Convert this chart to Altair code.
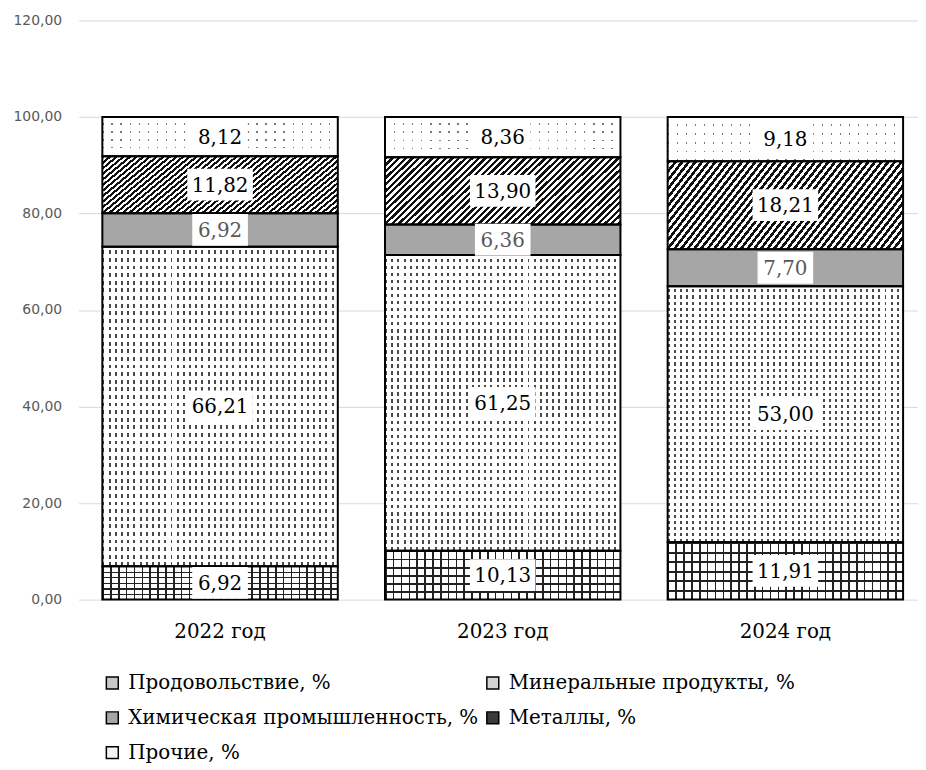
import altair as alt
import pandas as pd

years = ["2022 год", "2023 год", "2024 год"]
series = ["Продовольствие, %", "Минеральные продукты, %",
          "Химическая промышленность, %", "Металлы, %", "Прочие, %"]
food = [6.92, 10.13, 11.91]
minerals = [66.21, 61.25, 53.00]
chem = [6.92, 6.36, 7.70]
metals = [11.82, 13.90, 18.21]
other = [8.12, 8.36, 9.18]
y_ticks = [0, 20, 40, 60, 80, 100, 120]

values = [food, minerals, chem, metals, other]
rows = []
for si, (s, vals) in enumerate(zip(series, values)):
    for yi, y in enumerate(years):
        rows.append({"year": y, "series": s, "order": si, "value": vals[yi]})
df = pd.DataFrame(rows)

legend_fill = ["#c8c8c8", "#d4d4d4", "#a6a6a6", "#3a3a3a", "#f2f2f2"]
SERIF = "DejaVu Serif"


def stripes(n, frac, c_on, c_off, x2, y2):
    stops = []
    for i in range(n):
        a = i / n
        b = (i + frac) / n
        c = (i + 1) / n
        stops += [{"offset": a, "color": c_on}, {"offset": b, "color": c_on},
                  {"offset": b, "color": c_off}, {"offset": c, "color": c_off}]
    return {"gradient": "linear", "x1": 0, "y1": 0, "x2": x2, "y2": y2,
            "stops": stops}


T = "rgba(255,255,255,0)"

base = alt.Chart(df).transform_stack(
    stack="value", groupby=["year"], sort=[alt.SortField("order")],
    as_=["y0", "y1"]
).transform_calculate(
    mid="(datum.y0 + datum.y1) / 2",
    label="replace(format(datum.value, '.2f'), '.', ',')",
    w="length(replace(format(datum.value, '.2f'), '.', ',')) * 10 + 16",
)

X = alt.X("year:N", sort=years, title=None,
          scale=alt.Scale(paddingInner=0.167, paddingOuter=0.0685, align=0.615),
          axis=alt.Axis(domain=False, ticks=False, labelAngle=0,
                        labelFont=SERIF, labelFontSize=20,
                        labelColor="black", labelPadding=22))
Y = alt.Y("y0:Q", title=None,
          scale=alt.Scale(domain=[0, 120], nice=False),
          axis=alt.Axis(values=y_ticks, domain=False, ticks=False, tickSize=0,
                        labelExpr="replace(format(datum.value, '.2f'), '.', ',')",
                        labelFont="DejaVu Sans", labelFontSize=14,
                        labelColor="#595959", labelPadding=17,
                        gridColor="#d9d9d9", gridWidth=1))

colored = base.mark_bar().encode(
    x=X, y=Y, y2="y1:Q",
    color=alt.Color("series:N", scale=alt.Scale(domain=series, range=legend_fill),
                    legend=alt.Legend(title=None, orient="none", legendX=24,
                                      legendY=657, columns=2, direction="horizontal",
                                      symbolType="square", symbolSize=144,
                                      symbolStrokeColor="black", symbolStrokeWidth=1.5,
                                      labelFont=SERIF, labelFontSize=20,
                                      labelColor="black", labelLimit=600,
                                      labelOffset=6, columnPadding=4, rowPadding=15)),
)


def overlay(name, grad):
    return base.transform_filter(alt.datum.series == name).mark_bar(
        fill=grad, strokeWidth=0).encode(x=X, y="y0:Q", y2="y1:Q")


layers = [colored]
# Продовольствие: grid
layers.append(overlay(series[0], stripes(30, 0.2, "#222222", "#ffffff", 1, 0)))
layers.append(overlay(series[0], stripes(6, 0.2, "#222222", T, 0, 1)))
# Минеральные: dense dots
layers.append(overlay(series[1], stripes(38, 0.32, "#4a4a4a", "#ffffff", 1, 0)))
layers.append(overlay(series[1], stripes(42, 0.5, "#ffffff", T, 0, 1)))
# Металлы: diagonal hatch
layers.append(overlay(series[3], stripes(48, 0.5, "#111111", "#ffffff", 1.25, 0.3625)))
# Прочие: sparse dots
layers.append(overlay(series[4], stripes(26, 0.14, "#7a7a7a", "#ffffff", 1, 0)))
layers.append(overlay(series[4], stripes(5, 0.8, "#ffffff", T, 0, 1)))

outline = base.mark_bar(fillOpacity=0, stroke="black", strokeWidth=2).encode(
    x=X, y="y0:Q", y2="y1:Q")
layers.append(outline)

boxes = base.mark_bar(color="white", yOffset=-16, y2Offset=16).encode(
    x=X, y="mid:Q", y2="mid:Q",
    size=alt.Size("w:Q", scale=None, legend=None))
layers.append(boxes)

texts = base.mark_text(font=SERIF, fontSize=20, baseline="middle",
                       dy=1).encode(
    x=X, y="mid:Q", text="label:N",
    color=alt.condition(alt.datum.series == series[2], alt.value("#595959"),
                        alt.value("black")))
layers.append(texts)

chart = alt.layer(*layers).properties(
    width=845, height=583,
    padding={"left": 5, "top": 3, "right": 0, "bottom": 5},
).configure_view(stroke=None)

chart.save("out.html", embed_options={"renderer": "svg", "actions": False})
